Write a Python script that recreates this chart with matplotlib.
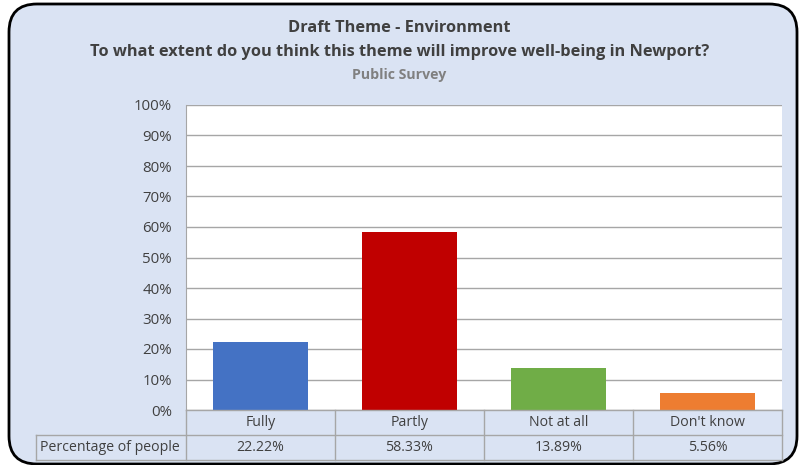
import matplotlib
matplotlib.use("Agg")
import matplotlib.pyplot as plt
from matplotlib.patches import FancyBboxPatch
from matplotlib.lines import Line2D

categories = ["Fully", "Partly", "Not at all", "Don't know"]
values = [22.22, 58.33, 13.89, 5.56]
value_labels = ["22.22%", "58.33%", "13.89%", "5.56%"]
series_name = "Percentage of people"
bar_colors = ["#4472C4", "#C00000", "#70AD47", "#ED7D31"]
yticks = list(range(0, 101, 10))

W, H = 799, 465
plt.rcParams["font.family"] = ["Open Sans", "DejaVu Sans"]
fig = plt.figure(figsize=(W / 100, H / 100), dpi=100, facecolor="white")

def fx(px):
    return px / W

def fy(py):
    return 1 - py / H

# rounded chart frame
frame = FancyBboxPatch((fx(9), fy(464)), fx(788), (463 - 3) / H,
                       boxstyle="round,pad=0,rounding_size=0.035",
                       transform=fig.transFigure, facecolor="#DAE3F3",
                       edgecolor="black", linewidth=2, mutation_aspect=W / H,
                       zorder=-10)
fig.patches.append(frame)

text_col = "#404040"
fig.text(0.5, fy(28), "Draft Theme - Environment", ha="center", va="center",
         fontsize=11.8, fontweight="bold", color=text_col)
fig.text(0.5, fy(52), "To what extent do you think this theme will improve well-being in Newport?",
         ha="center", va="center", fontsize=11.8, fontweight="bold", color=text_col)
fig.text(0.5, fy(75), "Public Survey", ha="center", va="center",
         fontsize=10.2, fontweight="bold", color="#808080")

left, right, top, bottom = 186, 782, 105, 410
ax = fig.add_axes([fx(left), fy(bottom), fx(right - left), (bottom - top) / H])
ax.set_facecolor("white")
x = list(range(len(categories)))
ax.bar(x, values, width=0.64, color=bar_colors, zorder=3)
ax.set_xlim(-0.5, len(categories) - 0.5)
ax.set_ylim(0, 100)
ax.set_yticks(yticks)
ax.set_yticklabels([f"{t}%" for t in yticks], fontsize=10.8, color=text_col)
ax.tick_params(axis="y", length=0, pad=10)
ax.set_xticks([])
ax.yaxis.grid(True, color="#A6A6A6", linewidth=1, zorder=0)
for s in ["top", "right", "bottom"]:
    ax.spines[s].set_visible(False)
ax.spines["left"].set_color("#A6A6A6")

# data table under the axis
grid_col = "#A6A6A6"
row1, row2, row3 = 410, 435, 460
col_edges = [left + i * (right - left) / len(categories) for i in range(len(categories) + 1)]

def hline(y, x0, x1):
    fig.add_artist(Line2D([fx(x0), fx(x1)], [fy(y), fy(y)], color=grid_col, lw=1))

def vline(xp, y0, y1):
    fig.add_artist(Line2D([fx(xp), fx(xp)], [fy(y0), fy(y1)], color=grid_col, lw=1))

hline(row1, left, right)
hline(row2, 36, right)
hline(row3, 36, right)
vline(36, row2, row3)
for xe in col_edges:
    vline(xe, row1, row3)

for i, (c, v) in enumerate(zip(categories, value_labels)):
    cx = (col_edges[i] + col_edges[i + 1]) / 2
    fig.text(fx(cx), fy((row1 + row2) / 2), c, ha="center", va="center",
             fontsize=10.2, color=text_col)
    fig.text(fx(cx), fy((row2 + row3) / 2), v, ha="center", va="center",
             fontsize=10.2, color=text_col)
fig.text(fx(40), fy((row2 + row3) / 2), series_name, ha="left", va="center",
         fontsize=10.2, color=text_col)

fig.savefig("out.png", dpi=100, facecolor="white")
